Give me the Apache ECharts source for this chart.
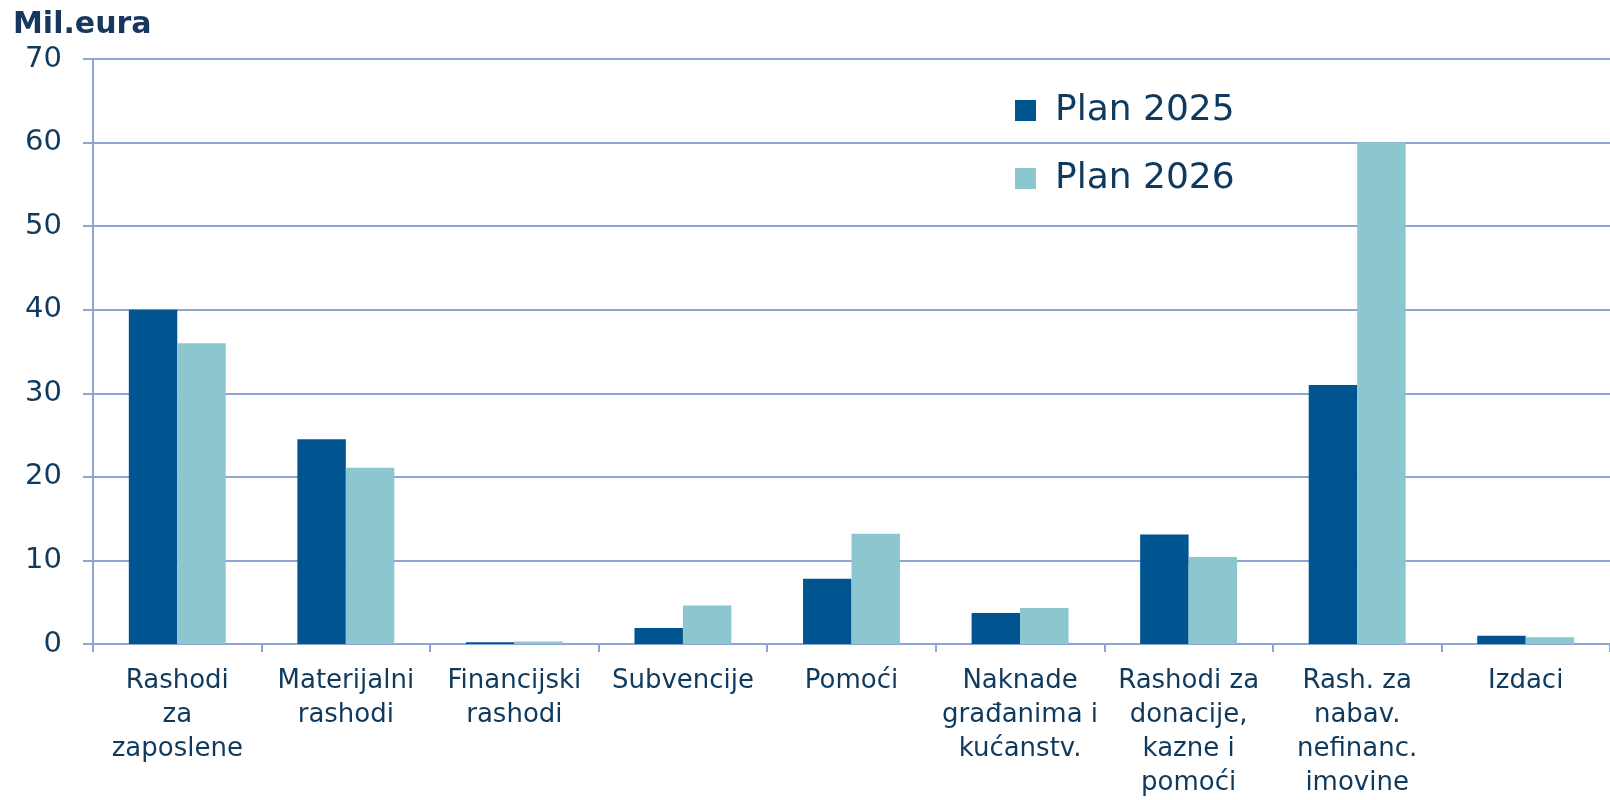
<!DOCTYPE html>
<html><head><meta charset="utf-8">
<script src="https://cdn.jsdelivr.net/npm/echarts@6/dist/echarts.min.js"></script>
<style>html,body{margin:0;padding:0;background:#fff}#c{width:1610px;height:800px}</style>
</head><body><div id="c"></div>
<script>
const categories = ["Rashodi\nza\nzaposlene","Materijalni\nrashodi","Financijski\nrashodi","Subvencije","Pomoći","Naknade\ngrađanima i\nkućanstv.","Rashodi za\ndonacije,\nkazne i\npomoći","Rash. za\nnabav.\nnefinanc.\nimovine","Izdaci"];
const plan2025 = [40.0, 24.5, 0.2, 1.9, 7.8, 3.7, 13.1, 31.0, 1.0];
const plan2026 = [36.0, 21.1, 0.3, 4.6, 13.2, 4.3, 10.4, 60.0, 0.8];
const yTicks = [0, 10, 20, 30, 40, 50, 60, 70];
const unitLabel = "Mil.eura";

const axisColor = "#8EA4D2";
const textColor = "#0F3A5E";
const chart = echarts.init(document.getElementById('c'));
chart.setOption({
  animation: false,
  textStyle: {fontFamily: "DejaVu Sans"},
  graphic: [{type:'text', left: 13, top: 10, style:{text: unitLabel, font:'bold 30px "DejaVu Sans"', fill:'#17375E'}}],
  legend: {
    orient: 'vertical', left: 1010, top: 87, itemWidth: 21, itemHeight: 21, itemGap: 31,
    icon: 'rect',
    textStyle: {fontSize: 36, lineHeight: 37, color: textColor, fontFamily: "DejaVu Sans", padding:[0,0,0,14]},
    data: ['Plan 2025','Plan 2026']
  },
  grid: {left: 93, right: 0, top: 59, bottom: 148, containLabel: false},
  xAxis: {
    type: 'category', data: categories,
    axisLine: {lineStyle: {color: axisColor, width: 2}},
    axisTick: {show: true, length: 8, lineStyle: {color: axisColor, width: 2}},
    axisLabel: {color: textColor, fontSize: 26, lineHeight: 34, margin: 20, interval: 0, fontFamily: "DejaVu Sans"}
  },
  yAxis: {
    type: 'value', min: yTicks[0], max: yTicks[yTicks.length-1], interval: 10,
    axisLine: {show: true, lineStyle: {color: axisColor, width: 2}},
    axisTick: {show: true, length: 10, lineStyle: {color: axisColor, width: 2}},
    splitLine: {lineStyle: {color: axisColor, width: 2}},
    axisLabel: {color: textColor, fontSize: 29, margin: 31, fontFamily: "DejaVu Sans"}
  },
  series: [
    {name: 'Plan 2025', type: 'bar', data: plan2025, barGap: '0%', barCategoryGap: '42.5%', itemStyle: {color: '#00548F'}},
    {name: 'Plan 2026', type: 'bar', data: plan2026, itemStyle: {color: '#8CC6CE'}}
  ]
});
</script></body></html>
